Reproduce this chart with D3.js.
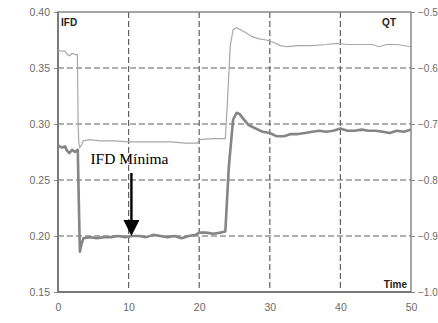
<!DOCTYPE html>
<html>
<head>
<meta charset="utf-8">
<script src="https://cdn.jsdelivr.net/npm/d3@7"></script>
<style>
  body { margin: 0; background: #fff; overflow: hidden; }
  svg { display: block; font-family: 'Liberation Sans', Arial, sans-serif; }
  .tick text { fill: #6a6a6a; font-size: 10.5px; font-family: 'Liberation Sans', Arial, sans-serif; }
  .right .tick text { font-size: 10px; }
  .grid line { stroke: #606060; stroke-width: 1.2; stroke-dasharray: 6,3; }
</style>
</head>
<body>
<svg id="chart" width="438" height="323"></svg>
<script>
// time axis (shared)
const xTicks = [0, 10, 20, 30, 40, 50]
const leftTicks = [0.15, 0.20, 0.25, 0.30, 0.35, 0.40]
const rightTicks = [-1.0, -0.9, -0.8, -0.7, -0.6, -0.5]

// IFD series (left axis)
const ifdTime = [0, 0.5, 1, 1.3, 1.6, 2, 2.4, 2.8, 2.95, 3.1, 3.3, 3.6, 4.5, 5.5, 6.5, 7.5, 8.5, 9.5, 10.5, 11.5, 12.5, 13.5, 14.5, 15.5, 16.5, 17.5, 18.5, 19.5, 20, 21, 22, 23, 23.7, 24.2, 24.8, 25.3, 25.7, 26.2, 27, 28, 29, 30, 31, 32, 33, 34, 35, 36, 37, 38, 39, 40, 41, 42, 43, 44, 45, 46, 47, 48, 49, 50]
const ifdValue = [0.281, 0.279, 0.280, 0.276, 0.274, 0.277, 0.275, 0.277, 0.230, 0.186, 0.192, 0.198, 0.199, 0.198, 0.199, 0.199, 0.200, 0.199, 0.200, 0.200, 0.199, 0.201, 0.200, 0.199, 0.200, 0.198, 0.200, 0.201, 0.203, 0.203, 0.202, 0.203, 0.204, 0.262, 0.304, 0.310, 0.309, 0.305, 0.299, 0.296, 0.293, 0.292, 0.289, 0.289, 0.291, 0.291, 0.292, 0.293, 0.294, 0.293, 0.294, 0.296, 0.294, 0.294, 0.295, 0.294, 0.294, 0.293, 0.292, 0.294, 0.293, 0.295]

// QT series (right axis)
const qtTime = [0, 0.5, 1, 1.3, 1.6, 2, 2.5, 2.75, 2.85, 2.95, 3.1, 3.3, 3.6, 4.5, 6, 8, 10, 12, 14, 16, 18, 19.8, 20, 21, 22, 23, 23.7, 24, 24.4, 24.8, 25.2, 25.6, 26.5, 27.5, 28.5, 29.5, 30.5, 31.5, 32.5, 34, 36, 38, 39.5, 41, 43, 44.5, 45.5, 46.5, 48, 50]
const qtValue = [-0.568, -0.570, -0.570, -0.576, -0.578, -0.574, -0.576, -0.576, -0.700, -0.734, -0.742, -0.738, -0.730, -0.728, -0.730, -0.730, -0.732, -0.732, -0.732, -0.732, -0.734, -0.734, -0.728, -0.727, -0.726, -0.726, -0.726, -0.660, -0.560, -0.532, -0.528, -0.530, -0.536, -0.544, -0.548, -0.550, -0.554, -0.560, -0.562, -0.560, -0.560, -0.558, -0.556, -0.558, -0.558, -0.558, -0.562, -0.558, -0.558, -0.562]

const annotation = { label: 'IFD Mínima', t: 10.4, v: 0.20 }

const svg = d3.select('#chart')
const margin = { left: 58, right: 27, top: 12, bottom: 31 }
const width = +svg.attr('width')
const height = +svg.attr('height')
const innerWidth = width - margin.left - margin.right
const innerHeight = height - margin.top - margin.bottom

const g = svg.append('g').attr('transform', `translate(${margin.left},${margin.top})`)

const x = d3.scaleLinear().domain([0, 50]).range([0, innerWidth])
const yL = d3.scaleLinear().domain([0.15, 0.40]).range([innerHeight, 0])
const yR = d3.scaleLinear().domain([-1.0, -0.5]).range([innerHeight, 0])

// dashed grid
g.append('g').attr('class', 'grid')
  .selectAll('line').data(xTicks.slice(1, -1)).enter().append('line')
  .attr('x1', d => x(d)).attr('x2', d => x(d))
  .attr('y1', 0).attr('y2', innerHeight)
g.append('g').attr('class', 'grid')
  .selectAll('line').data(leftTicks.slice(1, -1)).enter().append('line')
  .attr('x1', 0).attr('x2', innerWidth)
  .attr('y1', d => yL(d)).attr('y2', d => yL(d))

// axes
g.append('g').attr('transform', `translate(0,${innerHeight})`)
  .call(d3.axisBottom(x).tickValues(xTicks).tickFormat(d3.format('d')).tickSize(0).tickPadding(12))
g.append('g')
  .call(d3.axisLeft(yL).tickValues(leftTicks).tickFormat(d3.format('.2f')).tickSize(4).tickPadding(4))
g.append('g').attr('class', 'right').attr('transform', `translate(${innerWidth},0)`)
  .call(d3.axisRight(yR).tickValues(rightTicks).tickFormat(d3.format('.1f')).tickSize(4).tickPadding(3))
svg.selectAll('.domain').remove()
svg.selectAll('.tick line').attr('stroke', '#888')

// frame
g.append('rect')
  .attr('width', innerWidth).attr('height', innerHeight)
  .attr('fill', 'none').attr('stroke', '#888').attr('stroke-width', 1.5)
g.append('line').attr('x1', 0).attr('x2', 0).attr('y1', 0).attr('y2', innerHeight)
  .attr('stroke', '#777').attr('stroke-width', 1.8)
g.append('line').attr('x1', 0).attr('x2', innerWidth).attr('y1', innerHeight).attr('y2', innerHeight)
  .attr('stroke', '#777').attr('stroke-width', 1.8)

// series
const qtData = qtTime.map((t, i) => ({ t: t, v: qtValue[i] }))
const ifdData = ifdTime.map((t, i) => ({ t: t, v: ifdValue[i] }))

g.append('path').datum(qtData)
  .attr('fill', 'none').attr('stroke', '#a8a8a8').attr('stroke-width', 1.2)
  .attr('d', d3.line().x(d => x(d.t)).y(d => yR(d.v)))
g.append('path').datum(ifdData)
  .attr('fill', 'none').attr('stroke', '#858585').attr('stroke-width', 2.6)
  .attr('stroke-linejoin', 'round')
  .attr('d', d3.line().x(d => x(d.t)).y(d => yL(d.v)))

// corner labels
g.append('text').attr('x', 3).attr('y', 14).attr('fill', '#222')
  .style('font-size', '10px').style('font-weight', 'bold').text('IFD')
g.append('text').attr('x', innerWidth - 15).attr('y', 14).attr('text-anchor', 'end').attr('fill', '#222')
  .style('font-size', '10px').style('font-weight', 'bold').text('QT')
g.append('text').attr('x', innerWidth - 4).attr('y', innerHeight - 4).attr('text-anchor', 'end').attr('fill', '#222')
  .style('font-size', '10px').style('font-weight', 'bold').text('Time')

// annotation arrow
const ax = x(annotation.t)
const ay = yL(annotation.v)
g.append('text').attr('x', ax - 2).attr('y', ay - 72)
  .attr('text-anchor', 'middle')
  .style('font-family', "'Liberation Serif', 'Times New Roman', serif")
  .style('font-size', '15.5px').text(annotation.label)
g.append('line').attr('x1', ax).attr('x2', ax).attr('y1', ay - 63).attr('y2', ay - 14)
  .attr('stroke', '#000').attr('stroke-width', 2.4)
g.append('path')
  .attr('d', `M${ax - 8},${ay - 16}L${ax + 8},${ay - 16}L${ax},${ay}Z`)
  .attr('fill', '#000')
</script>
</body>
</html>
